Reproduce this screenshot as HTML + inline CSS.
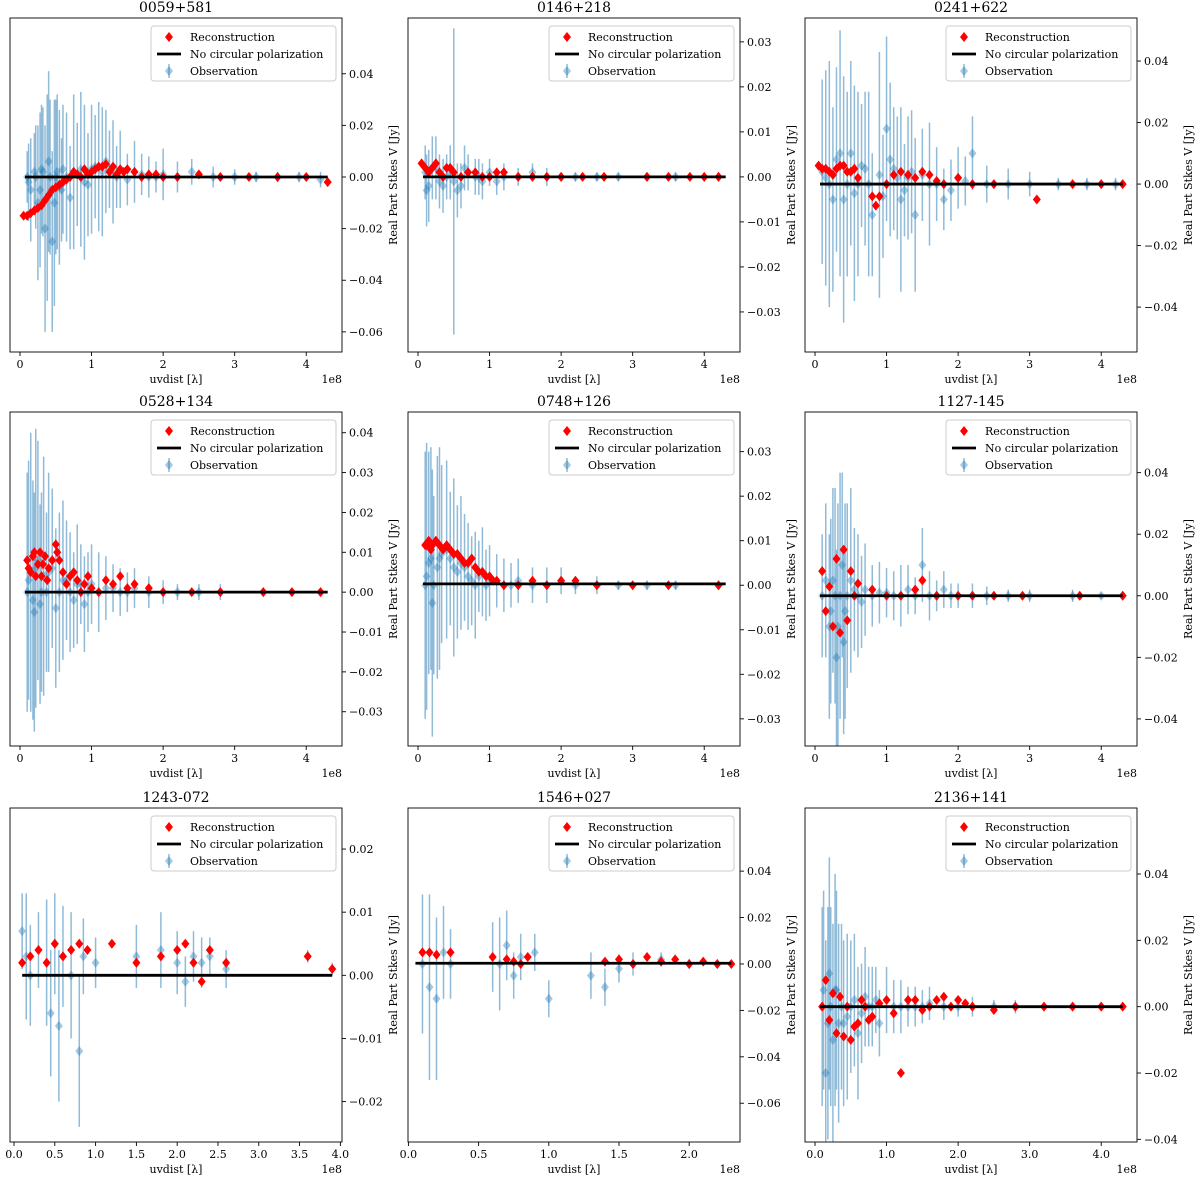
<!DOCTYPE html>
<html><head><meta charset="utf-8"><style>
body{margin:0;background:#fff;}
svg{display:block;font-family:"DejaVu Serif","Liberation Serif",serif;}
</style></head><body>
<svg id="fig" width="1200" height="1181" viewBox="0 0 1200 1181" xmlns="http://www.w3.org/2000/svg"></svg>
<script>
const names=["0059+581","0146+218","0241+622","0528+134","0748+126","1127-145","1243-072","1546+027","2136+141"];
// panel data (x in 1e8 lambda, y in Jy)
const obsX1=[0.1,0.15,0.2,0.25,0.3,0.35,0.4,0.45,0.5,0.55,0.6,0.7,0.75,0.8,0.9,1.0,1.1,1.2,1.3,1.4,1.5,1.6,1.8,2.0,2.2,2.4,2.7,3.0,3.3,3.6,3.9,4.2,0.12,0.22,0.28,0.32,0.38,0.42,0.48,0.52,0.58,0.65,0.85,0.95,1.05,1.15,1.25,1.35,1.7,1.9];
const obsY1=[0.0,-0.005,0.002,-0.01,0.003,-0.02,0.006,-0.025,0.0,-0.004,0.003,-0.008,0.002,0.001,-0.002,0.003,0.004,0.006,0.002,0.003,-0.001,0.002,0.0,0.001,0.0,0.002,0.0,0.0,0.0,0.0,0.0,-0.001,-0.002,0.0,-0.005,0.002,-0.008,0.0,-0.01,0.002,-0.005,0.0,0.003,-0.003,0.004,0.002,0.003,0.0,0.001,0.0];
const obsE1=[0.01,0.02,0.015,0.03,0.025,0.04,0.035,0.035,0.03,0.03,0.025,0.02,0.03,0.02,0.03,0.025,0.025,0.02,0.02,0.015,0.01,0.012,0.008,0.01,0.006,0.005,0.004,0.003,0.002,0.002,0.002,0.003,0.015,0.02,0.03,0.025,0.04,0.03,0.04,0.03,0.02,0.025,0.03,0.02,0.02,0.025,0.015,0.012,0.008,0.006];
const recX1=[0.05,0.1,0.15,0.2,0.25,0.3,0.35,0.4,0.45,0.5,0.6,0.7,0.8,0.9,1.0,1.1,1.2,1.3,1.4,1.5,1.6,1.8,2.0,2.2,2.5,2.8,3.2,3.6,4.0,4.3,0.55,0.65,0.75,0.85,0.95,1.05,1.15,1.25,1.35,1.45,1.7,1.9];
const recY1=[-0.015,-0.015,-0.014,-0.013,-0.012,-0.011,-0.009,-0.007,-0.005,-0.004,-0.002,0.0,0.001,0.003,0.002,0.004,0.005,0.004,0.003,0.003,0.002,0.001,0.0,0.0,0.001,0.0,0.0,0.0,0.0,-0.002,-0.003,-0.001,0.002,0.0,0.001,0.003,0.004,0.002,0.001,0.002,0.0,0.001];

const obsX2=[0.1,0.15,0.2,0.3,0.4,0.5,0.6,0.7,0.8,0.9,1.0,1.2,1.4,1.6,1.8,2.0,2.2,2.5,2.8,3.2,3.6,4.0,4.2,0.12,0.25,0.35,0.45,0.55,0.65,0.85,1.1];
const obsY2=[0.001,-0.002,0.002,-0.001,0.0,-0.001,-0.002,0.001,0.0,-0.001,0.001,0.0,0.0,0.001,0.0,0.0,0.0,0.0,0.0,0.0,0.0,0.0,0.0,-0.003,0.002,-0.002,0.001,-0.003,0.002,0.0,-0.001];
const obsE2=[0.006,0.008,0.007,0.006,0.005,0.034,0.005,0.004,0.004,0.004,0.003,0.003,0.002,0.002,0.002,0.001,0.001,0.001,0.001,0.001,0.001,0.001,0.001,0.008,0.007,0.006,0.006,0.006,0.005,0.004,0.003];
const recX2=[0.05,0.1,0.2,0.3,0.4,0.5,0.6,0.8,1.0,1.2,1.4,1.6,1.8,2.0,2.3,2.6,3.2,3.5,3.8,4.0,4.2,0.15,0.25,0.35,0.45,0.7,0.9,1.1];
const recY2=[0.003,0.002,0.002,0.001,0.002,0.001,0.0,0.001,0.0,0.001,0.0,0.0,0.0,0.0,0.0,0.0,0.0,0.0,0.0,0.0,0.0,0.001,0.003,0.0,0.002,0.001,0.0,0.001];

const obsX3=[0.1,0.2,0.3,0.4,0.5,0.6,0.7,0.8,0.9,1.0,1.1,1.2,1.3,1.4,1.5,1.6,1.8,2.0,2.2,2.4,2.7,3.0,3.4,3.8,4.2,0.15,0.25,0.35,0.45,0.55,0.65,0.75,0.95,1.05,1.15,1.25,1.35,1.7,1.9,2.1];
const obsY3=[0.004,0.0,0.008,-0.005,0.01,0.0,0.005,-0.01,0.003,0.018,0.005,-0.005,0.002,-0.01,0.003,0.0,-0.005,0.002,0.01,0.0,0.0,0.0,0.0,0.0,0.0,0.002,-0.005,0.01,0.0,-0.003,0.006,0.0,-0.004,0.008,0.002,-0.002,0.004,0.0,-0.002,0.001];
const obsE3=[0.03,0.04,0.03,0.04,0.03,0.03,0.025,0.02,0.04,0.03,0.02,0.03,0.02,0.025,0.015,0.02,0.01,0.01,0.012,0.006,0.005,0.004,0.002,0.002,0.002,0.035,0.03,0.04,0.03,0.035,0.02,0.03,0.02,0.025,0.02,0.015,0.02,0.012,0.01,0.008];
const recX3=[0.05,0.1,0.2,0.3,0.4,0.5,0.6,0.8,0.85,0.9,1.0,1.1,1.2,1.4,1.6,1.8,2.0,2.2,2.5,3.1,3.6,4.0,4.3,0.15,0.25,0.35,0.45,0.55,1.3,1.5,1.7];
const recY3=[0.006,0.005,0.004,0.005,0.006,0.004,0.002,-0.004,-0.007,-0.004,0.0,0.003,0.004,0.002,0.003,0.0,0.002,0.0,0.0,-0.005,0.0,0.0,0.0,0.005,0.003,0.006,0.004,0.005,0.003,0.004,0.001];

const obsX4=[0.1,0.15,0.2,0.25,0.3,0.4,0.5,0.6,0.7,0.8,0.9,1.0,1.1,1.2,1.4,1.6,1.8,2.0,2.2,2.5,2.8,3.4,3.8,4.2,0.12,0.18,0.22,0.28,0.33,0.37,0.45,0.55,0.65,0.75,0.85,0.95,1.3,1.5];
const obsY4=[0.0,0.005,-0.005,0.008,0.0,0.005,-0.004,0.003,0.0,0.002,-0.003,0.002,0.0,0.001,0.0,0.001,0.0,0.0,0.0,0.0,0.0,0.0,0.0,0.0,0.003,-0.002,0.006,-0.003,0.004,0.0,0.006,0.0,0.003,-0.002,0.002,0.0,0.001,0.0];
const obsE4=[0.03,0.035,0.03,0.03,0.025,0.025,0.02,0.02,0.015,0.015,0.012,0.01,0.01,0.008,0.006,0.005,0.004,0.003,0.002,0.002,0.002,0.001,0.001,0.001,0.03,0.03,0.035,0.025,0.03,0.02,0.02,0.02,0.015,0.012,0.01,0.01,0.006,0.005];
const recX4=[0.1,0.15,0.2,0.25,0.3,0.35,0.4,0.5,0.55,0.6,0.7,0.8,0.9,1.0,1.2,1.4,1.6,1.8,2.0,2.4,2.8,3.4,3.8,4.2,0.12,0.18,0.22,0.28,0.32,0.38,0.45,0.52,0.65,0.75,0.85,0.95,1.1,1.3,1.5];
const recY4=[0.008,0.005,0.01,0.007,0.004,0.009,0.006,0.012,0.008,0.005,0.004,0.003,0.002,0.001,0.003,0.004,0.002,0.001,0.0,0.0,0.0,0.0,0.0,0.0,0.006,0.009,0.004,0.01,0.007,0.003,0.008,0.01,0.002,0.005,0.0,0.004,0.0,0.002,0.001];

const obsX5=[0.1,0.15,0.2,0.3,0.4,0.5,0.6,0.7,0.8,0.9,1.0,1.2,1.4,1.6,1.8,2.0,2.2,2.5,2.8,3.2,3.6,4.2,0.12,0.18,0.22,0.27,0.33,0.45,0.55,0.65,0.75,0.85,0.95,1.1,1.3];
const obsY5=[0.0,0.005,-0.004,0.006,0.008,0.004,0.005,0.002,0.0,0.003,0.001,0.0,0.001,0.0,0.0,0.001,0.0,0.0,0.0,0.0,0.0,0.0,0.002,0.006,0.0,0.004,0.007,0.006,0.003,0.004,0.001,0.002,0.0,0.001,0.0];
const obsE5=[0.03,0.025,0.03,0.025,0.02,0.02,0.015,0.012,0.012,0.01,0.008,0.006,0.005,0.004,0.004,0.003,0.002,0.002,0.001,0.001,0.001,0.001,0.03,0.025,0.02,0.025,0.02,0.015,0.015,0.012,0.01,0.008,0.008,0.006,0.005];
const recX5=[0.1,0.15,0.2,0.3,0.35,0.4,0.5,0.6,0.7,0.8,0.9,1.0,1.1,1.2,1.4,1.6,1.8,2.0,2.2,2.5,3.0,3.5,4.2,0.12,0.18,0.25,0.45,0.55,0.65,0.75,0.85,0.95,1.05];
const recY5=[0.009,0.01,0.009,0.009,0.008,0.009,0.007,0.006,0.005,0.004,0.003,0.002,0.001,0.0,0.0,0.001,0.0,0.001,0.001,0.0,0.0,0.0,0.0,0.009,0.008,0.01,0.008,0.007,0.005,0.006,0.003,0.002,0.001];

const obsX6=[0.1,0.2,0.25,0.3,0.35,0.4,0.5,0.6,0.7,0.8,1.0,1.2,1.4,1.5,1.6,1.8,2.0,2.2,2.4,2.7,3.0,3.6,4.0,4.3,0.15,0.22,0.28,0.32,0.38,0.42,0.45,0.55,0.65,0.9,1.1,1.3,1.7,1.9];
const obsY6=[0.0,-0.01,0.005,-0.02,0.0,-0.015,0.005,0.0,0.002,0.0,0.001,0.0,0.0,0.01,0.0,0.002,0.0,0.0,0.0,0.0,0.0,0.0,0.0,0.0,0.005,-0.005,0.0,-0.01,0.01,-0.005,0.0,0.002,-0.002,0.001,0.0,0.002,0.0,0.0];
const obsE6=[0.02,0.03,0.03,0.035,0.04,0.03,0.03,0.02,0.015,0.01,0.008,0.01,0.006,0.012,0.008,0.006,0.004,0.004,0.003,0.002,0.002,0.002,0.001,0.001,0.025,0.03,0.035,0.04,0.03,0.035,0.03,0.02,0.015,0.01,0.008,0.008,0.005,0.004];
const recX6=[0.1,0.15,0.2,0.25,0.3,0.35,0.4,0.45,0.5,0.55,0.6,0.8,1.0,1.2,1.4,1.5,1.7,2.0,2.2,2.5,2.9,3.7,4.3];
const recY6=[0.008,-0.005,0.003,-0.01,0.012,-0.012,0.015,-0.008,0.008,0.0,0.004,0.002,0.0,0.0,0.002,0.005,0.0,0.0,0.0,0.0,0.0,0.0,0.0];

const obsX7=[0.1,0.15,0.2,0.3,0.4,0.45,0.5,0.55,0.6,0.7,0.8,0.85,1.0,1.5,1.8,2.0,2.1,2.2,2.3,2.4,2.6,3.6,3.9];
const obsY7=[0.007,0.003,0.0,0.004,0.002,-0.006,0.005,-0.008,0.003,0.0,-0.012,0.003,0.002,0.003,0.004,0.002,-0.001,0.003,0.002,0.003,0.001,0.003,0.001];
const obsE7=[0.006,0.01,0.008,0.006,0.01,0.01,0.008,0.012,0.008,0.01,0.012,0.006,0.004,0.005,0.006,0.005,0.004,0.004,0.004,0.003,0.003,0.001,0.001];
const recX7=[0.1,0.2,0.3,0.4,0.5,0.6,0.7,0.8,0.9,1.2,1.5,1.8,2.0,2.1,2.2,2.3,2.4,2.6,3.6,3.9];
const recY7=[0.002,0.003,0.004,0.002,0.005,0.003,0.004,0.005,0.004,0.005,0.002,0.003,0.004,0.005,0.002,-0.001,0.004,0.002,0.003,0.001];

const obsX8=[0.1,0.15,0.2,0.25,0.3,0.6,0.65,0.7,0.75,0.8,0.9,1.0,1.3,1.4,1.5,1.6,1.8,2.0,2.2];
const obsY8=[0.0,-0.01,-0.015,0.005,0.0,0.003,0.0,0.008,-0.005,0.003,0.005,-0.015,-0.005,-0.01,-0.002,0.0,0.002,0.0,0.0];
const obsE8=[0.03,0.04,0.035,0.02,0.015,0.015,0.02,0.015,0.01,0.01,0.008,0.008,0.01,0.008,0.006,0.005,0.003,0.002,0.001];
const recX8=[0.1,0.15,0.2,0.3,0.6,0.7,0.75,0.8,0.85,1.4,1.5,1.6,1.7,1.8,1.9,2.0,2.1,2.2,2.3];
const recY8=[0.005,0.005,0.004,0.005,0.003,0.002,0.001,0.0,0.003,0.001,0.002,0.0,0.003,0.001,0.002,0.0,0.001,0.0,0.0];

const obsX9=[0.1,0.15,0.2,0.25,0.3,0.4,0.5,0.6,0.7,0.8,0.9,1.0,1.2,1.4,1.6,1.8,2.0,2.2,2.5,2.8,3.2,3.6,4.0,4.3,0.12,0.18,0.22,0.28,0.33,0.37,0.45,0.55,0.65,0.75,0.85,1.1,1.3,1.5];
const obsY9=[0.0,-0.02,0.01,-0.01,0.005,-0.005,0.0,-0.008,0.003,0.0,-0.005,0.002,0.0,0.0,0.001,0.0,0.0,0.0,0.0,0.0,0.0,0.0,0.0,0.0,0.005,-0.005,0.0,0.005,-0.005,0.0,-0.003,0.002,-0.002,0.0,0.002,0.0,0.0,0.0];
const obsE9=[0.03,0.04,0.035,0.035,0.03,0.025,0.02,0.02,0.015,0.012,0.01,0.01,0.008,0.006,0.005,0.004,0.003,0.003,0.002,0.002,0.001,0.001,0.001,0.001,0.03,0.035,0.03,0.035,0.03,0.025,0.025,0.02,0.015,0.012,0.01,0.008,0.006,0.005];
const recX9=[0.1,0.15,0.2,0.25,0.3,0.35,0.4,0.45,0.5,0.6,0.7,0.8,1.0,1.2,1.4,1.6,1.8,2.0,2.2,2.5,2.8,3.2,3.6,4.0,4.3,0.55,0.65,0.75,0.9,1.1,1.3,1.5,1.7,1.9,2.1];
const recY9=[0.0,0.008,-0.004,0.004,-0.008,0.003,-0.009,0.0,-0.01,-0.005,0.0,-0.003,0.002,-0.02,0.002,0.0,0.003,0.002,0.0,-0.001,0.0,0.0,0.0,0.0,0.0,-0.006,0.002,-0.004,0.001,-0.002,0.002,-0.001,0.002,0.0,0.001];

const lineY=[0,0,0,0,0.0003,0,0,0.0003,0];
const lineX0=[0.07,0.07,0.07,0.07,0.07,0.07,0.1,0.05,0.07];
const lineX1=[4.3,4.3,4.3,4.3,4.3,4.3,3.9,2.3,4.3];
const yTickVals=[[0.04,0.02,0,-0.02,-0.04,-0.06],[0.03,0.02,0.01,0,-0.01,-0.02,-0.03],[0.04,0.02,0,-0.02,-0.04],
 [0.04,0.03,0.02,0.01,0,-0.01,-0.02,-0.03],[0.03,0.02,0.01,0,-0.01,-0.02,-0.03],[0.04,0.02,0,-0.02,-0.04],
 [0.02,0.01,0,-0.01,-0.02],[0.04,0.02,0,-0.02,-0.04,-0.06],[0.04,0.02,0,-0.02,-0.04]];
const xTickVals=[[0,1,2,3,4],[0,1,2,3,4],[0,1,2,3,4],[0,1,2,3,4],[0,1,2,3,4],[0,1,2,3,4],
 [0,0.5,1,1.5,2,2.5,3,3.5,4],[0,0.5,1,1.5,2],[0,1,2,3,4]];
const yDom=[[-0.0678,0.0616],[-0.0389,0.0353],[-0.0546,0.054],[-0.0386,0.0452],[-0.0361,0.0389],[-0.0488,0.0597],[-0.0264,0.0265],[-0.0767,0.0672],[-0.0408,0.0599]];
const xDom=[[-0.14,4.5],[-0.14,4.5],[-0.14,4.5],[-0.14,4.5],[-0.14,4.5],[-0.14,4.5],[-0.049,4.02],[-0.003,2.362],[-0.14,4.5]];
const OX=[obsX1,obsX2,obsX3,obsX4,obsX5,obsX6,obsX7,obsX8,obsX9];
const OY=[obsY1,obsY2,obsY3,obsY4,obsY5,obsY6,obsY7,obsY8,obsY9];
const OE=[obsE1,obsE2,obsE3,obsE4,obsE5,obsE6,obsE7,obsE8,obsE9];
const RX=[recX1,recX2,recX3,recX4,recX5,recX6,recX7,recX8,recX9];
const RY=[recY1,recY2,recY3,recY4,recY5,recY6,recY7,recY8,recY9];

const NS="http://www.w3.org/2000/svg";
const fig=document.getElementById('fig');
function mk(tag,attrs,parent,text){const e=document.createElementNS(NS,tag);for(const k in attrs)e.setAttribute(k,attrs[k]);if(text!==undefined)e.textContent=text;parent.appendChild(e);return e;}
function diamond(cx,cy,r){return `${cx},${cy-r} ${cx+r*0.8},${cy} ${cx},${cy+r} ${cx-r*0.8},${cy}`;}
const lefts=[10,408,805],tops=[18,412,808],W=332,H=334;
for(let p=0;p<9;p++){
 const L=lefts[p%3],T=tops[Math.floor(p/3)],R=L+W,B=T+H;
 const g=mk('g',{},fig);
 
 
 const sx=v=>L+(v-xDom[p][0])/(xDom[p][1]-xDom[p][0])*W;
 const sy=v=>B-(v-yDom[p][0])/(yDom[p][1]-yDom[p][0])*H;
 const t=mk('text',{x:(L+R)/2,y:T-6,'text-anchor':'middle','font-size':14},g,names[p]);
 
 const og=mk('g',{},g);
 
 for(let i=0;i<OX[p].length;i++){
  const x=sx(OX[p][i]);
  let y1=Math.max(T,sy(OY[p][i]+OE[p][i])),y2=Math.min(B,sy(OY[p][i]-OE[p][i]));
  const l=mk('line',{x1:x,x2:x,y1:y1,y2:y2,stroke:'#1f77b4','stroke-opacity':0.5,'stroke-width':1.5},og);
  
 }
 for(let i=0;i<OX[p].length;i++){
  const m=mk('polygon',{points:diamond(sx(OX[p][i]),sy(OY[p][i]),5),fill:'#1f77b4','fill-opacity':0.4},og);
  
 }
 const rg=mk('g',{},g);
 
 for(let i=0;i<RX[p].length;i++){
  const m=mk('polygon',{points:diamond(sx(RX[p][i]),sy(RY[p][i]),5),fill:'#ff0000'},rg);
  
 }
 const zl=mk('line',{x1:sx(lineX0[p]),x2:sx(lineX1[p]),y1:sy(lineY[p]),y2:sy(lineY[p]),stroke:'#000','stroke-width':2.8},g);
 
 const fr=mk('rect',{x:L,y:T,width:W,height:H,fill:'none',stroke:'#000','stroke-width':0.9},g);
 
 for(const v of xTickVals[p]){
  const x=sx(v);
  mk('line',{x1:x,x2:x,y1:B,y2:B+4,stroke:'#000','stroke-width':0.9},g);
  const lab=p>=6?v.toFixed(1):String(v);
  const tt=mk('text',{x:x,y:B+16,'text-anchor':'middle','font-size':11},g,lab);
  
 }
 const xl=mk('text',{x:(L+R)/2,y:B+31,'text-anchor':'middle','font-size':11},g,'uvdist [λ]');
 
 const ex=mk('text',{x:R,y:B+31,'text-anchor':'end','font-size':11},g,'1e8');
 
 for(const v of yTickVals[p]){
  const y=sy(v);
  mk('line',{x1:R,x2:R+4,y1:y,y2:y,stroke:'#000','stroke-width':0.9},g);
  const lab=(v<0?'−':'')+Math.abs(v).toFixed(2);
  const tt=mk('text',{x:R+7,y:y+4,'font-size':11},g,lab);
  
 }
 const yl=mk('text',{x:R+55,y:(T+B)/2,'text-anchor':'middle','font-size':11,transform:`rotate(-90 ${R+55} ${(T+B)/2})`},g,'Real Part Stkes V [Jy]');
 
 const lg=mk('g',{},g);
 
 const lx=L+141,ly=T+8;
 mk('rect',{x:lx,y:ly,width:185,height:55,rx:3,fill:'#fff','fill-opacity':0.8,stroke:'#ccc','stroke-width':1},lg);
 mk('polygon',{points:diamond(lx+18,ly+11,5),fill:'#ff0000'},lg);
 const t1=mk('text',{x:lx+39,y:ly+15,'font-size':11},lg,'Reconstruction');
 
 mk('line',{x1:lx+6,x2:lx+30,y1:ly+28,y2:ly+28,stroke:'#000','stroke-width':2.8},lg);
 const t2=mk('text',{x:lx+39,y:ly+32,'font-size':11},lg,'No circular polarization');
 
 mk('line',{x1:lx+18,x2:lx+18,y1:ly+38,y2:ly+52,stroke:'#1f77b4','stroke-opacity':0.5,'stroke-width':1.5},lg);
 mk('polygon',{points:diamond(lx+18,ly+45,5),fill:'#1f77b4','fill-opacity':0.4},lg);
 const t3=mk('text',{x:lx+39,y:ly+49,'font-size':11},lg,'Observation');
 
}
</script>
</body></html>
